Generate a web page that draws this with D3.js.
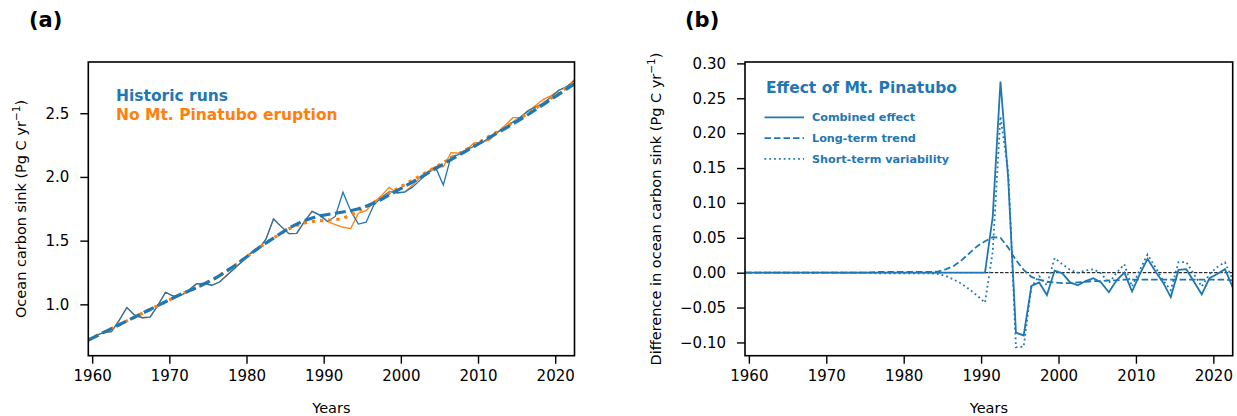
<!DOCTYPE html>
<html>
<head>
<meta charset="utf-8">
<script src="https://cdn.jsdelivr.net/npm/d3@7"></script>
<style>
  html, body { margin: 0; padding: 0; background: #fff; }
  svg { display: block; font-family: "DejaVu Sans", sans-serif; }
</style>
</head>
<body>
<svg id="chart" width="1237" height="416"></svg>
<script>
// ---------------- DATA ----------------
const years = [1959,1960,1961,1962,1963,1964,1965,1966,1967,1968,1969,1970,1971,1972,1973,1974,1975,1976,1977,1978,1979,1980,1981,1982,1983,1984,1985,1986,1987,1988,1989,1990,1991,1992,1993,1994,1995,1996,1997,1998,1999,2000,2001,2002,2003,2004,2005,2006,2007,2008,2009,2010,2011,2012,2013,2014,2015,2016,2017,2018,2019,2020,2021,2022];

// Panel (a): ocean carbon sink (Pg C / yr)
const historicRuns = [0.72,0.755,0.78,0.785,0.875,0.975,0.915,0.895,0.90,0.99,1.095,1.065,1.07,1.11,1.16,1.165,1.15,1.175,1.23,1.285,1.34,1.40,1.43,1.51,1.67,1.61,1.555,1.557,1.65,1.73,1.70,1.65,1.69,1.88,1.735,1.63,1.645,1.78,1.84,1.885,1.876,1.88,1.92,1.975,2.03,2.075,1.937,2.16,2.175,2.215,2.24,2.27,2.31,2.35,2.39,2.43,2.47,2.52,2.55,2.58,2.63,2.68,2.71,2.755];
const noPinatubo   = [0.72,0.755,0.78,0.785,0.875,0.975,0.915,0.895,0.90,0.99,1.095,1.065,1.07,1.11,1.16,1.165,1.15,1.175,1.23,1.285,1.34,1.40,1.43,1.51,1.67,1.61,1.555,1.557,1.65,1.73,1.70,1.65,1.625,1.605,1.595,1.715,1.735,1.80,1.855,1.918,1.873,1.882,1.935,1.995,2.042,2.083,2.08,2.19,2.186,2.215,2.267,2.272,2.29,2.348,2.404,2.465,2.466,2.515,2.563,2.611,2.638,2.682,2.705,2.765];
const trendHistoric = [0.72,0.75,0.78,0.81,0.84,0.87,0.90,0.93,0.96,0.99,1.02,1.05,1.08,1.105,1.13,1.16,1.19,1.225,1.265,1.305,1.35,1.395,1.44,1.48,1.52,1.56,1.598,1.63,1.657,1.678,1.694,1.705,1.715,1.725,1.735,1.75,1.77,1.795,1.825,1.858,1.892,1.926,1.96,1.995,2.03,2.065,2.10,2.135,2.17,2.205,2.24,2.275,2.31,2.345,2.38,2.415,2.452,2.49,2.53,2.57,2.61,2.65,2.69,2.73];
const trendNoPinatubo = [0.72,0.75,0.78,0.81,0.84,0.87,0.90,0.93,0.96,0.99,1.02,1.05,1.08,1.105,1.13,1.16,1.19,1.225,1.265,1.305,1.35,1.395,1.44,1.48,1.52,1.558,1.593,1.62,1.639,1.65,1.656,1.66,1.664,1.675,1.699,1.732,1.766,1.801,1.835,1.871,1.906,1.941,1.975,2.009,2.043,2.077,2.112,2.147,2.181,2.216,2.251,2.285,2.32,2.355,2.39,2.425,2.462,2.50,2.54,2.58,2.62,2.66,2.70,2.741];

// Panel (b): difference in ocean carbon sink (Pg C / yr)
const combinedEffect = [0,0,0,0,0,0,0,0,0,0,0,0,0,0,0,0,0,0,0,0,0,0,0,0,0,0,0,0,0,0,0,0,0.080,0.274,0.135,-0.086,-0.090,-0.019,-0.014,-0.032,0.003,-0.001,-0.014,-0.018,-0.012,-0.008,-0.014,-0.028,-0.011,0.000,-0.027,-0.002,0.020,0.002,-0.014,-0.035,0.004,0.005,-0.013,-0.031,-0.008,-0.002,0.005,-0.021];
const longTermTrend = [0,0,0,0,0,0,0,0,0,0,0,0,0,0,0,0,0,0.001,0.001,0.001,0.001,0.001,0.001,0.001,0.001,0.002,0.005,0.010,0.018,0.028,0.038,0.045,0.051,0.050,0.036,0.018,0.004,-0.006,-0.010,-0.013,-0.014,-0.015,-0.015,-0.014,-0.013,-0.012,-0.012,-0.011,-0.011,-0.010,-0.010,-0.010,-0.010,-0.010,-0.010,-0.010,-0.010,-0.010,-0.010,-0.010,-0.010,-0.010,-0.010,-0.011];
const shortTermVariability = [0,0,0,0,0,0,0,0,0,0,0,0,0,0,0,0,0,-0.001,-0.001,-0.001,-0.001,-0.001,-0.001,-0.001,-0.001,-0.002,-0.005,-0.010,-0.016,-0.024,-0.033,-0.043,0.030,0.224,0.145,-0.107,-0.106,-0.020,-0.005,-0.018,0.021,0.012,0.004,0.000,0.003,0.005,-0.001,-0.015,0.000,0.012,-0.020,0.004,0.026,0.008,-0.011,-0.025,0.015,0.015,-0.002,-0.020,-0.002,0.008,0.015,-0.010];

const xTicks = [1960,1970,1980,1990,2000,2010,2020];
const yTicksA = [1.0,1.5,2.0,2.5];
const yTicksB = [-0.10,-0.05,0.00,0.05,0.10,0.15,0.20,0.25,0.30];

const legendA = ["Historic runs", "No Mt. Pinatubo eruption"];
const legendBTitle = "Effect of Mt. Pinatubo";
const legendB = ["Combined effect", "Long-term trend", "Short-term variability"];

// ---------------- STYLE ----------------
const BLUE = "#1f77b4", ORANGE = "#ff7f0e";
const svg = d3.select("#chart");

function frame(g, x, y) {
  const [x0, x1] = x.range(), [y1, y0] = y.range();
  g.append("rect").attr("x", x0).attr("y", y0).attr("width", x1 - x0).attr("height", y1 - y0)
    .attr("fill", "none").attr("stroke", "#000").attr("stroke-width", 1.6);
}

function axes(g, x, y, yTicks, yFmt, yPad) {
  const [x0] = x.range(), [yb] = y.range();
  const ax = g.append("g").attr("transform", `translate(0,${yb})`)
    .call(d3.axisBottom(x).tickValues(xTicks).tickSize(8).tickPadding(7).tickFormat(d3.format("d")));
  const ay = g.append("g").attr("transform", `translate(${x0},0)`)
    .call(d3.axisLeft(y).tickValues(yTicks).tickSize(8).tickPadding(yPad).tickFormat(yFmt));
  [ax, ay].forEach(a => {
    a.select(".domain").remove();
    a.selectAll(".tick line").attr("stroke", "#000").attr("stroke-width", 1.4);
    a.selectAll(".tick text").attr("fill", "#000").style("font-size", "15px")
      .style("font-family", "DejaVu Sans");
  });
}

function ylabel(g, cx, cy, main) {
  const t = g.append("text").attr("transform", `translate(${cx},${cy}) rotate(-90)`)
    .attr("text-anchor", "middle").style("font-size", "14.5px").attr("fill", "#000");
  t.append("tspan").text(main);
  t.append("tspan").attr("dy", -6).style("font-size", "10.5px").text("\u22121");
  t.append("tspan").attr("dy", 6).text(")");
}

// ---------------- PANEL (a) ----------------
const xA = d3.scaleLinear().domain([1959.5, 2022.5]).range([88.3, 574.5]);
const yA = d3.scaleLinear().domain([0.597, 2.902]).range([355.7, 62]);
const gA = svg.append("g");
svg.append("defs").append("clipPath").attr("id", "clipA").append("rect")
  .attr("x", 88.3).attr("y", 62).attr("width", 574.5 - 88.3).attr("height", 355.7 - 62);
const plotA = gA.append("g").attr("clip-path", "url(#clipA)");
const lineA = arr => d3.line().x((d, i) => xA(years[i] + 0.5)).y(d => yA(d))(arr);

plotA.append("path").attr("d", lineA(noPinatubo)).attr("fill", "none").attr("stroke", ORANGE).attr("stroke-width", 1.3);
plotA.append("path").attr("d", lineA(historicRuns)).attr("fill", "none").attr("stroke", BLUE).attr("stroke-width", 1.3);
plotA.append("path").attr("d", lineA(trendNoPinatubo)).attr("fill", "none").attr("stroke", ORANGE)
  .attr("stroke-width", 3.2).attr("stroke-dasharray", "3.2,5");
plotA.append("path").attr("d", lineA(trendHistoric)).attr("fill", "none").attr("stroke", BLUE)
  .attr("stroke-width", 3.2).attr("stroke-dasharray", "11,4.5");

frame(gA, xA, yA);
axes(gA, xA, yA, yTicksA, d3.format(".1f"), 11);
gA.append("text").attr("x", xA(1991)).attr("y", 413).attr("text-anchor", "middle")
  .style("font-size", "14.5px").text("Years");
ylabel(gA, 26, 209, "Ocean carbon sink (Pg C yr");
gA.append("text").attr("x", 29).attr("y", 27).style("font-size", "21px").style("font-weight", "bold").text("(a)");
gA.append("text").attr("x", 116).attr("y", 100.7).style("font-size", "15.5px").style("font-weight", "bold")
  .attr("fill", BLUE).text(legendA[0]);
gA.append("text").attr("x", 116).attr("y", 119.5).style("font-size", "15.5px").style("font-weight", "bold")
  .attr("fill", ORANGE).text(legendA[1]);

// ---------------- PANEL (b) ----------------
const xB = d3.scaleLinear().domain([1959.5, 2022.5]).range([745, 1232.7]);
const yB = d3.scaleLinear().domain([-0.119, 0.302]).range([355.7, 62]);
const gB = svg.append("g");
svg.select("defs").append("clipPath").attr("id", "clipB").append("rect")
  .attr("x", 745).attr("y", 62).attr("width", 1232.7 - 745).attr("height", 355.7 - 62);
const plotB = gB.append("g").attr("clip-path", "url(#clipB)");
const lineB = arr => d3.line().x((d, i) => xB(years[i] + 0.5)).y(d => yB(d))(arr);

plotB.append("line").attr("x1", 745).attr("x2", 1232.7).attr("y1", yB(0)).attr("y2", yB(0))
  .attr("stroke", "#000").attr("stroke-width", 1).attr("stroke-dasharray", "3.5,1.6");
plotB.append("path").attr("d", lineB(combinedEffect)).attr("fill", "none").attr("stroke", BLUE).attr("stroke-width", 1.8);
plotB.append("path").attr("d", lineB(longTermTrend)).attr("fill", "none").attr("stroke", BLUE)
  .attr("stroke-width", 1.8).attr("stroke-dasharray", "6.5,3");
plotB.append("path").attr("d", lineB(shortTermVariability)).attr("fill", "none").attr("stroke", BLUE)
  .attr("stroke-width", 1.8).attr("stroke-dasharray", "1.8,3");

frame(gB, xB, yB);
axes(gB, xB, yB, yTicksB, d3.format(".2f"), 11);
gB.append("text").attr("x", (745 + 1232.7) / 2).attr("y", 413).attr("text-anchor", "middle")
  .style("font-size", "14.5px").text("Years");
ylabel(gB, 661, 209, "Difference in ocean carbon sink (Pg C yr");
gB.append("text").attr("x", 685).attr("y", 27).style("font-size", "21px").style("font-weight", "bold").text("(b)");

gB.append("text").attr("x", 766).attr("y", 93.3).style("font-size", "15.5px").style("font-weight", "bold")
  .attr("fill", BLUE).text(legendBTitle);
const dashes = [null, "6.5,3", "1.8,3"];
legendB.forEach((name, i) => {
  const yy = 117.3 + i * 20.8;
  gB.append("line").attr("x1", 764.5).attr("x2", 804).attr("y1", yy).attr("y2", yy)
    .attr("stroke", BLUE).attr("stroke-width", 1.8).attr("stroke-dasharray", dashes[i]);
  gB.append("text").attr("x", 812).attr("y", yy + 4).style("font-size", "11.2px").style("font-weight", "bold")
    .attr("fill", BLUE).text(name);
});
</script>
</body>
</html>
